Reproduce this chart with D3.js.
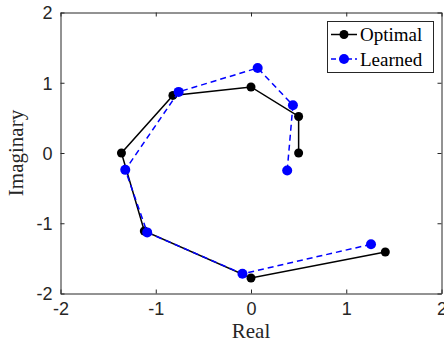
<!DOCTYPE html>
<html><head><meta charset="utf-8">
<script src="https://cdn.jsdelivr.net/npm/d3@7"></script>
<style>body{margin:0;background:#fff}svg{display:block}</style>
</head><body>
<script>
const optimalRe = [1.41, 0.00, -1.12, -1.36, -0.82, 0.00, 0.50, 0.50];
const optimalIm = [-1.41, -1.78, -1.11, 0.00, 0.82, 0.94, 0.52, 0.00];
const learnedRe = [1.26, -0.09, -1.09, -1.32, -0.76, 0.07, 0.44, 0.38];
const learnedIm = [-1.30, -1.72, -1.13, -0.24, 0.87, 1.21, 0.68, -0.25];
const xTicks = [-2, -1, 0, 1, 2];
const yTicks = [-2, -1, 0, 1, 2];
const seriesNames = ["Optimal", "Learned"];

const W = 444, H = 348;
const m = {l: 60.5, r: 2.5, t: 12.5, b: 54.5};
const svg = d3.select("body").append("svg").attr("width", W).attr("height", H);
const x = d3.scaleLinear().domain([-2, 2]).range([m.l, W - m.r]);
const y = d3.scaleLinear().domain([-2, 2]).range([H - m.b, m.t]);

const sans = "Liberation Sans, Arial, sans-serif";
const serif = "Liberation Serif, Times New Roman, serif";
const fmt = d => String(d);

// axes
const axB = svg.append("g").attr("transform", `translate(0,${y(-2)})`)
  .call(d3.axisBottom(x).tickValues(xTicks).tickSizeInner(-4).tickSizeOuter(0).tickPadding(9).tickFormat(fmt));
const axL = svg.append("g").attr("transform", `translate(${x(-2)},0)`)
  .call(d3.axisLeft(y).tickValues(yTicks).tickSizeInner(-4).tickSizeOuter(0).tickPadding(8).tickFormat(fmt));
const axT = svg.append("g").attr("transform", `translate(0,${y(2)})`)
  .call(d3.axisTop(x).tickValues(xTicks).tickSizeInner(-4).tickSizeOuter(0).tickFormat(""));
const axR = svg.append("g").attr("transform", `translate(${x(2)},0)`)
  .call(d3.axisRight(y).tickValues(yTicks).tickSizeInner(-4).tickSizeOuter(0).tickFormat(""));
[axB, axL, axT, axR].forEach(a => {
  a.selectAll("path,line").attr("stroke", "#262626").attr("stroke-width", 1);
  a.selectAll("text").attr("fill", "#262626").style("font-family", sans).style("font-size", "18px");
});
axL.selectAll("text").attr("dy", "0.35em");

// labels
svg.append("text").attr("x", x(0)).attr("y", 338).attr("text-anchor", "middle")
  .style("font-family", serif).style("font-size", "21px").attr("fill", "#262626").text("Real");
svg.append("text").attr("transform", `translate(23,${y(0)}) rotate(-90)`).attr("text-anchor", "middle")
  .style("font-family", serif).style("font-size", "21px").attr("fill", "#262626").text("Imaginary");

const series = [
  {name: seriesNames[0], re: optimalRe, im: optimalIm, color: "#000000", dash: null, r: 4.5},
  {name: seriesNames[1], re: learnedRe, im: learnedIm, color: "#0000ff", dash: "6,4", r: 5}
];
const line = d3.line().x(d => x(d[0])).y(d => y(d[1]));

series.forEach(s => {
  const pts = s.re.map((v, i) => [v, s.im[i]]);
  svg.append("path").datum(pts).attr("d", line).attr("fill", "none")
    .attr("stroke", s.color).attr("stroke-width", 1.5).attr("stroke-dasharray", s.dash);
  svg.append("g").selectAll("circle").data(pts).join("circle")
    .attr("cx", d => x(d[0])).attr("cy", d => y(d[1])).attr("r", s.r).attr("fill", s.color);
});

// legend
const lg = svg.append("g");
lg.append("rect").attr("x", 327.5).attr("y", 21.5).attr("width", 106).attr("height", 51)
  .attr("fill", "#fff").attr("stroke", "#262626").attr("stroke-width", 1);
series.forEach((s, i) => {
  const cy = 34.5 + i * 24.5;
  lg.append("line").attr("x1", 331).attr("x2", 357).attr("y1", cy).attr("y2", cy)
    .attr("stroke", s.color).attr("stroke-width", 1.5).attr("stroke-dasharray", s.dash ? "5,3" : null);
  lg.append("circle").attr("cx", 344).attr("cy", cy).attr("r", s.r).attr("fill", s.color);
  lg.append("text").attr("x", 360).attr("y", cy).attr("dy", "0.35em")
    .style("font-family", serif).style("font-size", "19px").attr("fill", "#000").text(s.name);
});
</script>
</body></html>
